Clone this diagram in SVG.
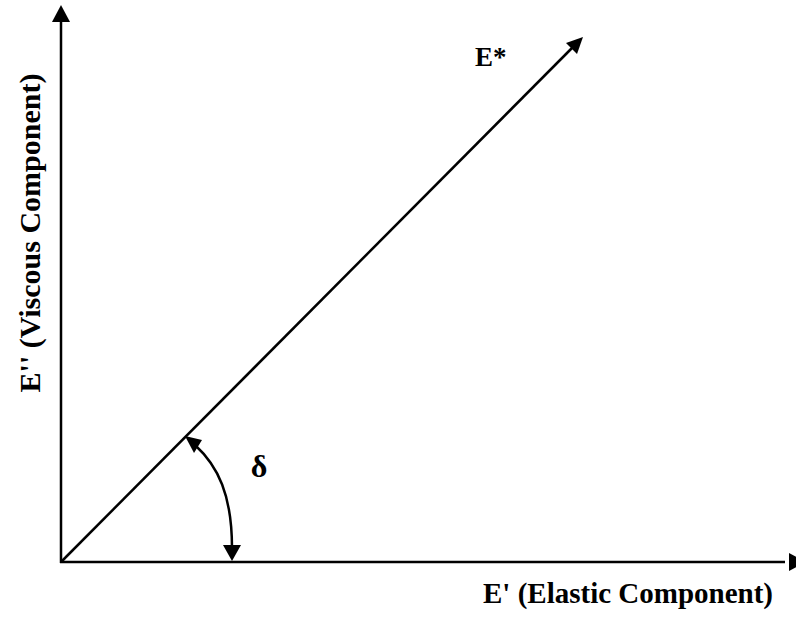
<svg xmlns="http://www.w3.org/2000/svg" width="796" height="622" viewBox="0 0 796 622">
<style>
.ln{stroke:#000;stroke-width:2.5;fill:none}
.ah{fill:#000;stroke:none}
.t{font-family:"Liberation Serif","Times New Roman",serif;font-weight:bold;fill:#000}
</style>
<rect width="796" height="622" fill="#fff"/>
<g id="connectors">
<line class="ln" x1="61" y1="563" x2="61" y2="20"/>
<polygon class="ah" points="61,5 52,22 70,22"/>
<line class="ln" x1="60" y1="562" x2="785" y2="562"/>
<polygon class="ah" points="806,562 789,553 789,571"/>
<line class="ln" x1="61" y1="562" x2="572" y2="48"/>
<polygon class="ah" points="583,37 566,43 577,54"/>
<path class="ln" d="M195,445 C218,466 232,495 232,548"/>
<polygon class="ah" points="185,436 202,440 194,453"/>
<polygon class="ah" points="232,561 223,545 241,545"/>
</g>
<g id="n-estar"><text class="t" x="475" y="66" font-size="27">E*</text></g>
<g id="n-delta"><text class="t" x="259" y="477" font-size="32" text-anchor="middle">δ</text></g>
<g id="n-xlabel"><text class="t" x="483" y="603" font-size="29">E' (Elastic Component)</text></g>
<g id="n-ylabel"><text class="t" transform="translate(40,233) rotate(-90)" text-anchor="middle" font-size="30">E'' (Viscous Component)</text></g>
</svg>
